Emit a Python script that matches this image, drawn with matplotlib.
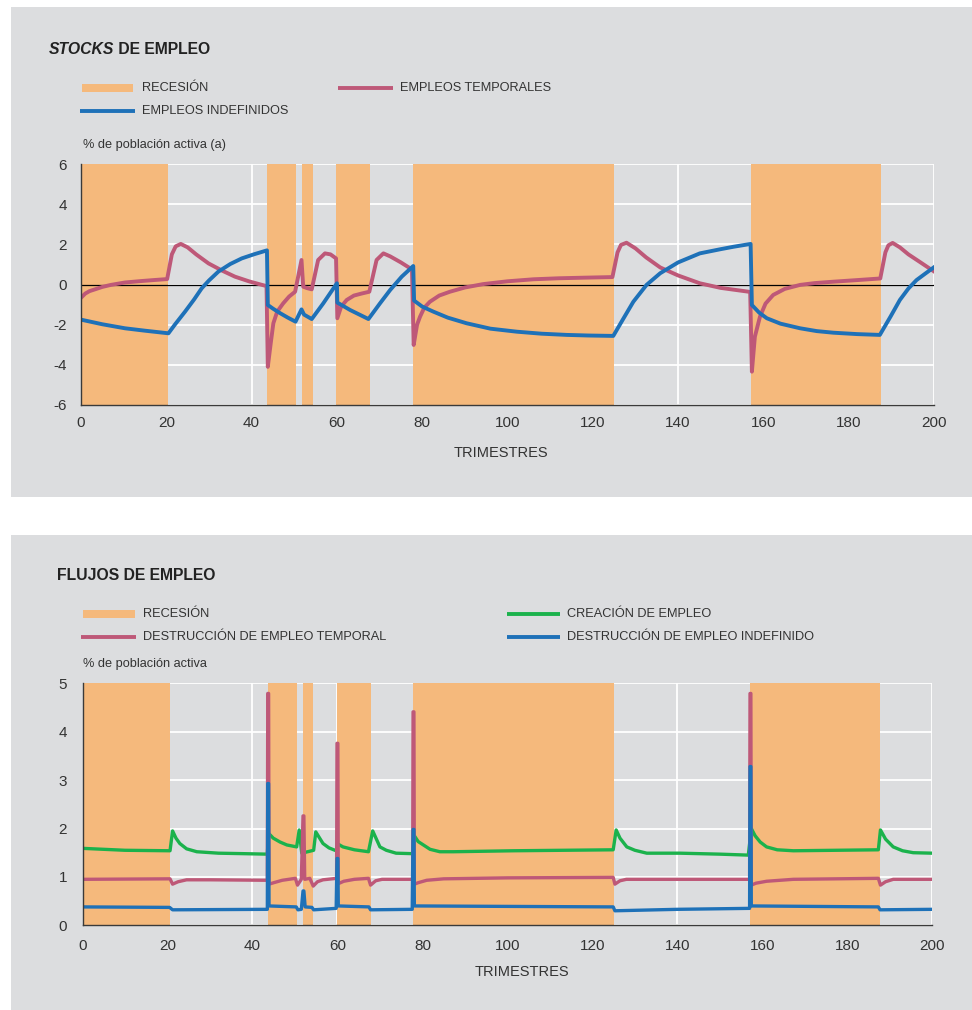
import matplotlib
matplotlib.use("Agg")
import matplotlib.pyplot as plt
from matplotlib.lines import Line2D
from matplotlib.patches import Rectangle

plt.rcParams['font.family'] = ['Liberation Sans', 'DejaVu Sans']
plt.rcParams['axes.unicode_minus'] = False

# ---------------- data ----------------
recession_start = [0, 43.7, 51.8, 59.8, 77.8, 157.1]
recession_end = [20.5, 50.4, 54.3, 67.8, 125.0, 187.6]

x_ticks = [0, 20, 40, 60, 80, 100, 120, 140, 160, 180, 200]
y_ticks_stock = [-6, -4, -2, 0, 2, 4, 6]
y_ticks_flow = [0, 1, 2, 3, 4, 5]

# Stocks: temporary jobs
temp_t = [0, 1, 2, 3.3, 5, 7, 10.3, 14, 17, 20.2, 21.3, 22.2, 23.4, 25, 27, 29.9, 33, 36.1,
          39.5, 43.5, 43.8, 44.5, 45.1, 46, 47.4, 48.8, 50.2, 51.7, 52.1, 53, 54.1, 55.6,
          57.2, 58.5, 59.8, 60.1, 61, 62.3, 64, 65.8, 67.6, 69.3, 70.9, 72.5, 75, 77.6, 78,
          78.8, 79.5, 80.5, 81.8, 84, 86.5, 90, 94.3, 100, 106.1, 112, 118, 124.6, 125.8,
          126.6, 127.9, 130, 132.5, 135.8, 140, 145.1, 150, 156.9, 157.3, 158, 159.2, 160.5,
          162.3, 165, 168.6, 172, 176.4, 182, 187.4, 188.6, 189.3, 190.3, 192, 194, 196.7, 200]
temp_v = [-0.66, -0.45, -0.33, -0.24, -0.12, -0.02, 0.10, 0.17, 0.22, 0.27, 1.5, 1.9, 2.02,
          1.85, 1.5, 1.05, 0.7, 0.39, 0.15, -0.08, -4.1, -2.9, -1.93, -1.35, -0.94, -0.6,
          -0.36, 1.22, -0.11, -0.18, -0.24, 1.22, 1.55, 1.5, 1.30, -1.68, -1.1, -0.77, -0.55,
          -0.45, -0.36, 1.22, 1.55, 1.4, 1.1, 0.75, -3.01, -2.0, -1.6, -1.15, -0.86, -0.55,
          -0.36, -0.15, 0.02, 0.16, 0.26, 0.31, 0.34, 0.37, 1.6, 1.97, 2.08, 1.8, 1.35, 0.85,
          0.45, 0.06, -0.17, -0.37, -4.34, -2.6, -1.6, -0.95, -0.52, -0.22, -0.02, 0.07, 0.14,
          0.22, 0.30, 1.6, 1.95, 2.07, 1.85, 1.5, 1.12, 0.65]

# Stocks: permanent jobs
perm_t = [0, 5, 10.3, 15, 20.5, 22, 24.4, 26.5, 28.3, 30, 32.2, 35, 37.7, 40.5, 43.6, 43.8,
          45, 46.7, 48.5, 50.3, 51.7, 52.3, 54.1, 56.8, 60.0, 60.1, 63.1, 67.4, 70.1, 72.5,
          75.2, 77.9, 78.1, 80, 82.6, 86, 90.4, 96, 102.2, 108, 113.9, 119, 124.8, 127, 129.5,
          132.6, 135.8, 140, 145.1, 150, 153, 157, 157.3, 159, 160.8, 164, 168.6, 172.5, 176.4,
          182, 187.3, 189.8, 192, 194, 195.9, 198, 200]
perm_v = [-1.75, -1.98, -2.18, -2.3, -2.43, -2.0, -1.35, -0.75, -0.19, 0.2, 0.64, 1.02, 1.3,
          1.5, 1.7, -1.02, -1.2, -1.43, -1.65, -1.85, -1.24, -1.5, -1.72, -0.94, 0.06, -0.9,
          -1.27, -1.72, -0.94, -0.27, 0.39, 0.92, -0.8, -1.1, -1.35, -1.65, -1.93, -2.2, -2.35,
          -2.45, -2.51, -2.54, -2.56, -1.76, -0.86, -0.02, 0.56, 1.1, 1.55, 1.76, 1.88, 2.02,
          -1.02, -1.4, -1.68, -1.95, -2.18, -2.32, -2.4, -2.47, -2.51, -1.6, -0.77, -0.2, 0.22,
          0.55, 0.86]

# Flows: job creation
cre_t = [0, 10, 20.6, 21.2, 22, 22.9, 24.5, 26.9, 32, 38, 43.5, 43.8, 44.9, 46.5, 48.1, 50.4,
         51, 51.6, 53, 54.4, 54.9, 56.6, 58, 59.7, 60.1, 61.3, 64, 67.3, 68.3, 70, 71.5, 73.8,
         77.7, 78.1, 79, 81.8, 84.1, 87.3, 101.4, 124.9, 125.6, 126.5, 128.1, 130, 132.8,
         140.6, 150, 156.7, 157.4, 158.3, 159.5, 161, 163.5, 167.3, 187.3, 187.8, 189, 190.8,
         193, 195.5, 200]
cre_v = [1.59, 1.55, 1.54, 1.95, 1.8, 1.69, 1.58, 1.52, 1.49, 1.48, 1.47, 1.9, 1.8, 1.72,
         1.66, 1.62, 1.97, 1.49, 1.52, 1.55, 1.93, 1.69, 1.6, 1.54, 1.68, 1.62, 1.56, 1.52,
         1.95, 1.62, 1.55, 1.49, 1.48, 1.85, 1.73, 1.57, 1.52, 1.52, 1.54, 1.56, 1.97, 1.8,
         1.62, 1.55, 1.49, 1.49, 1.47, 1.45, 2.0, 1.85, 1.72, 1.62, 1.56, 1.54, 1.56, 1.97,
         1.78, 1.62, 1.54, 1.50, 1.49]

# Flows: temporary job destruction
dtemp_t = [0, 20.6, 21.2, 22.5, 24.5, 30, 43.5, 43.6, 43.8, 43.9, 45, 47, 50.1, 50.6, 51.5,
           51.9, 52.1, 52.3, 53.5, 54.3, 55.3, 56.6, 59.8, 59.9, 60.1, 60.2, 61.5, 64, 67.3,
           67.8, 69, 70.5, 77.7, 77.8, 78, 78.1, 79, 81, 85, 100, 124.9, 125.3, 126.5, 128,
           140, 157, 157.1, 157.3, 157.4, 158.5, 161, 167.3, 187.3, 187.8, 189, 190.8, 200]
dtemp_v = [0.95, 0.96, 0.85, 0.90, 0.94, 0.94, 0.93, 4.79, 4.79, 0.85, 0.88, 0.93, 0.97,
           0.83, 0.95, 2.26, 2.26, 0.95, 0.97, 0.81, 0.9, 0.94, 0.97, 3.76, 3.76, 0.86, 0.91,
           0.95, 0.97, 0.83, 0.92, 0.95, 0.95, 4.41, 4.41, 0.85, 0.88, 0.93, 0.96, 0.98, 0.99,
           0.85, 0.92, 0.95, 0.95, 0.95, 4.79, 4.79, 0.83, 0.87, 0.91, 0.95, 0.97, 0.83, 0.9,
           0.95, 0.95]

# Flows: permanent job destruction
dperm_t = [0, 20.5, 21.2, 43.5, 43.6, 43.8, 43.9, 50.3, 50.7, 51.5, 51.9, 52.1, 52.4, 54,
           54.4, 59.7, 59.9, 60.1, 60.2, 67.4, 67.8, 77.6, 77.8, 78, 78.1, 124.9, 125.3, 140,
           157, 157.1, 157.3, 157.4, 187.3, 187.7, 200]
dperm_v = [0.38, 0.37, 0.32, 0.33, 2.93, 2.93, 0.40, 0.38, 0.32, 0.33, 0.71, 0.71, 0.38,
           0.37, 0.32, 0.35, 1.38, 1.38, 0.40, 0.38, 0.32, 0.33, 1.98, 1.98, 0.40, 0.38, 0.30,
           0.33, 0.35, 3.28, 3.28, 0.40, 0.38, 0.32, 0.33]

# ---------------- style ----------------
W, H = 972, 1010
BG = '#dcdddf'
ORANGE = '#f5b97c'
RED = '#be5878'
BLUE = '#1e71b8'
GREEN = '#1bb24c'
TXT = '#333333'


def fx(x):
    return x / W


def fy(y):
    return 1 - y / H


fig = plt.figure(figsize=(W / 100, H / 100), dpi=100)
fig.patch.set_facecolor('white')

# grey panels
fig.patches.append(Rectangle((fx(11), fy(497)), fx(961), 490 / H, transform=fig.transFigure,
                             facecolor=BG, edgecolor='none', zorder=-10))
fig.patches.append(Rectangle((fx(11), fy(1010)), fx(961), 475 / H, transform=fig.transFigure,
                             facecolor=BG, edgecolor='none', zorder=-10))


def style_axes(ax, yticks, ylim, ypad, xpad):
    ax.set_facecolor(BG)
    ax.set_xlim(0, 200)
    ax.set_ylim(*ylim)
    ax.set_xticks(x_ticks)
    ax.set_yticks(yticks)
    ax.grid(True, color='white', lw=1.3, zorder=0.5)
    ax.set_axisbelow(True)
    for s in ['top', 'right']:
        ax.spines[s].set_visible(False)
    for s in ['left', 'bottom']:
        ax.spines[s].set_color('#3a3a3a')
        ax.spines[s].set_linewidth(1.0)
        ax.spines[s].set_zorder(4)
    ax.tick_params(axis='both', length=0, labelsize=11, labelcolor=TXT)
    ax.tick_params(axis='y', pad=ypad)
    ax.tick_params(axis='x', pad=xpad)
    for s, e in zip(recession_start, recession_end):
        ax.axvspan(s, e, facecolor=ORANGE, edgecolor='none', zorder=1)


# ---------------- top panel ----------------
ax1 = fig.add_axes([fx(81), fy(405), (934 - 81) / W, (405 - 164) / H], zorder=1)
style_axes(ax1, y_ticks_stock, (-6, 6), 10, 8)
ax1.axhline(0, color='black', lw=0.9, zorder=2)
ax1.plot(temp_t, temp_v, color=RED, lw=2.8, zorder=3, solid_joinstyle='round')
ax1.plot(perm_t, perm_v, color=BLUE, lw=2.8, zorder=3.1, solid_joinstyle='round')

# ---------------- bottom panel ----------------
ax2 = fig.add_axes([fx(82.5), fy(925.3), (932.3 - 82.5) / W, (925.3 - 683.3) / H], zorder=1)
style_axes(ax2, y_ticks_flow, (0, 5), 11, 10)
ax2.plot(cre_t, cre_v, color=GREEN, lw=2.4, zorder=3, solid_joinstyle='round')
ax2.plot(dtemp_t, dtemp_v, color=RED, lw=2.4, zorder=3.1, solid_joinstyle='round')
ax2.plot(dperm_t, dperm_v, color=BLUE, lw=2.4, zorder=3.2, solid_joinstyle='round')

# ---------------- titles & labels ----------------
t1 = fig.text(fx(49), fy(50), 'STOCKS', fontsize=11.3, fontweight='bold', style='italic',
              color='#222222', va='center', ha='left')
fig.canvas.draw()
bb = t1.get_window_extent()
fig.text(bb.x1 / W, fy(50), ' DE EMPLEO', fontsize=11.3, fontweight='bold',
         color='#222222', va='center', ha='left')
fig.text(fx(57), fy(575), 'FLUJOS DE EMPLEO', fontsize=11.3, fontweight='bold',
         color='#222222', va='center', ha='left')

fig.text(fx(83), fy(145), '% de población activa (a)', fontsize=9.2, color=TXT,
         va='center', ha='left')
fig.text(fx(83), fy(664), '% de población activa', fontsize=9.2, color=TXT,
         va='center', ha='left')
fig.text(fx(501), fy(453), 'TRIMESTRES', fontsize=10.5, color=TXT, va='center', ha='center')
fig.text(fx(522), fy(972), 'TRIMESTRES', fontsize=10.5, color=TXT, va='center', ha='center')


# ---------------- legends ----------------
def leg_patch(x1, x2, y, label, tx):
    fig.patches.append(Rectangle((fx(x1), fy(y + 4)), (x2 - x1) / W, 8 / H,
                                 transform=fig.transFigure, facecolor=ORANGE,
                                 edgecolor='none', zorder=2))
    fig.text(fx(tx), fy(y), label, fontsize=9.2, color=TXT, va='center', ha='left')


def leg_line(x1, x2, y, color, label, tx):
    fig.add_artist(Line2D([fx(x1), fx(x2)], [fy(y), fy(y)], transform=fig.transFigure,
                          color=color, lw=2.8, solid_capstyle='butt'))
    fig.text(fx(tx), fy(y), label, fontsize=9.2, color=TXT, va='center', ha='left')


leg_patch(82, 133, 88, 'RECESIÓN', 142)
leg_line(338, 393, 88, RED, 'EMPLEOS TEMPORALES', 400)
leg_line(80, 135, 111, BLUE, 'EMPLEOS INDEFINIDOS', 142)

leg_patch(83, 135, 614, 'RECESIÓN', 143)
leg_line(507, 560, 614, GREEN, 'CREACIÓN DE EMPLEO', 567)
leg_line(81, 136, 637, RED, 'DESTRUCCIÓN DE EMPLEO TEMPORAL', 143)
leg_line(507, 560, 637, BLUE, 'DESTRUCCIÓN DE EMPLEO INDEFINIDO', 567)

fig.savefig('out.png', dpi=100, facecolor='white')
